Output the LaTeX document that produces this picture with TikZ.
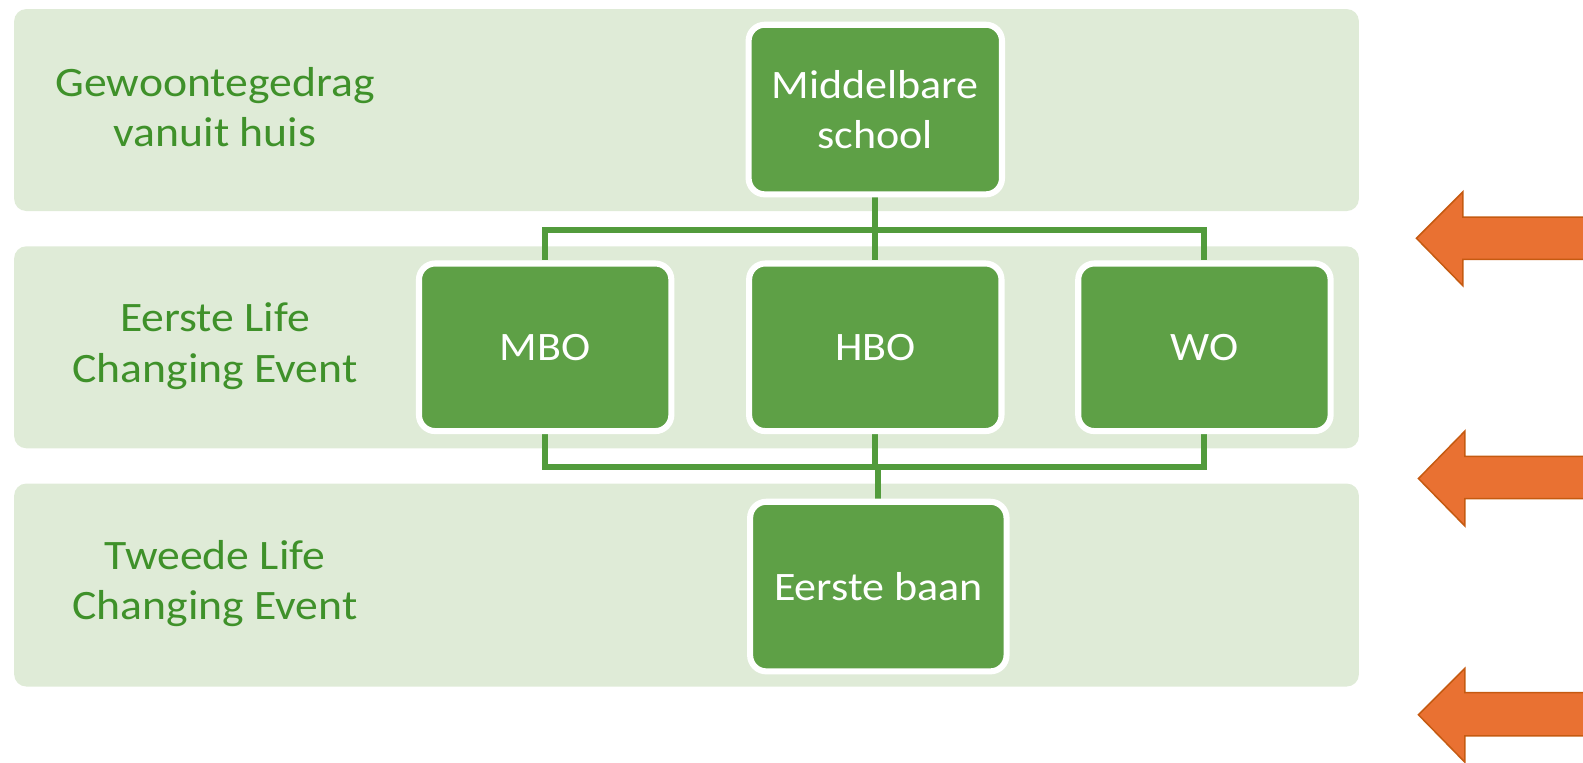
\documentclass[tikz,border=0pt]{standalone}
\usepackage{fontspec}
\setmainfont[FakeStretch=1.09]{Carlito}
\definecolor{bandc}{HTML}{DFEBD7}
\definecolor{boxc}{HTML}{5EA046}
\definecolor{linec}{HTML}{529B3C}
\definecolor{labc}{HTML}{3F912A}
\definecolor{arrf}{HTML}{E97132}
\definecolor{arrd}{HTML}{C55A11}
\pgfdeclarelayer{back}
\pgfdeclarelayer{mid}
\pgfsetlayers{back,mid,main}
\tikzset{
  band/.style={fill=bandc, rounded corners=12pt},
  orgbox/.style={draw=white, line width=6pt, fill=boxc, rounded corners=16pt,
    minimum width=250pt, minimum height=166pt, inner sep=0pt,
    text=white, align=center, font=\fontsize{40}{50}\selectfont},
  lab/.style={text=labc, align=center, font=\fontsize{41.5}{50}\selectfont},
  conn/.style={draw=linec, line width=6pt},
  bigarrow/.style={fill=arrf, draw=arrd, line width=1.5pt, line join=miter}
}
\begin{document}
\begin{tikzpicture}[x=1pt, y=-1pt]
\useasboundingbox (0,0) rectangle (1568,755);
\begin{pgfonlayer}{back}
\fill[band] (14,9) rectangle (1346,209);
\fill[band] (14,244) rectangle (1346,444);
\fill[band] (14,479) rectangle (1346,680);
\end{pgfonlayer}

\node[lab] (l1) at (213,106) {Gewoontegedrag\\vanuit huis};
\node[lab] (l2) at (213,343) {Eerste Life\\Changing Event};
\node[lab] (l3) at (213,578) {Tweede Life\\Changing Event};

\node[orgbox, minimum width=251pt, minimum height=168pt] (ms) at (867,108.5) {Middelbare\\school};
\node[orgbox] (mbo) at (540,344) {MBO};
\node[orgbox] (hbo) at (867,344) {HBO};
\node[orgbox] (wo) at (1193,344) {WO};
\node[orgbox, minimum width=254pt, minimum height=168pt] (eb) at (870,581) {Eerste baan};

\coordinate (top) at (867,228);
\coordinate (bot) at (867,463);
\begin{pgfonlayer}{mid}
\draw[conn] (ms.south) -- (top);
\draw[conn] (top) -| (mbo.north);
\draw[conn] (top) -| (wo.north);
\draw[conn] (top) -- (hbo.north);
\draw[conn] (mbo.south) |- (bot);
\draw[conn] (wo.south) |- (bot);
\draw[conn] (hbo.south) -- (bot);
\draw[conn] (bot -| eb.north) -- (eb.north);
\end{pgfonlayer}

\draw[bigarrow] (1590,215) -- (1449,215) -- (1449,190) -- (1403,236) -- (1449,283) -- (1449,257) -- (1590,257);
\draw[bigarrow] (1590,452) -- (1451,452) -- (1451,427) -- (1405,474) -- (1451,521) -- (1451,494) -- (1590,494);
\draw[bigarrow] (1590,686) -- (1451,686) -- (1451,662) -- (1405,708) -- (1451,755) -- (1451,729) -- (1590,729);
\end{tikzpicture}
\end{document}
